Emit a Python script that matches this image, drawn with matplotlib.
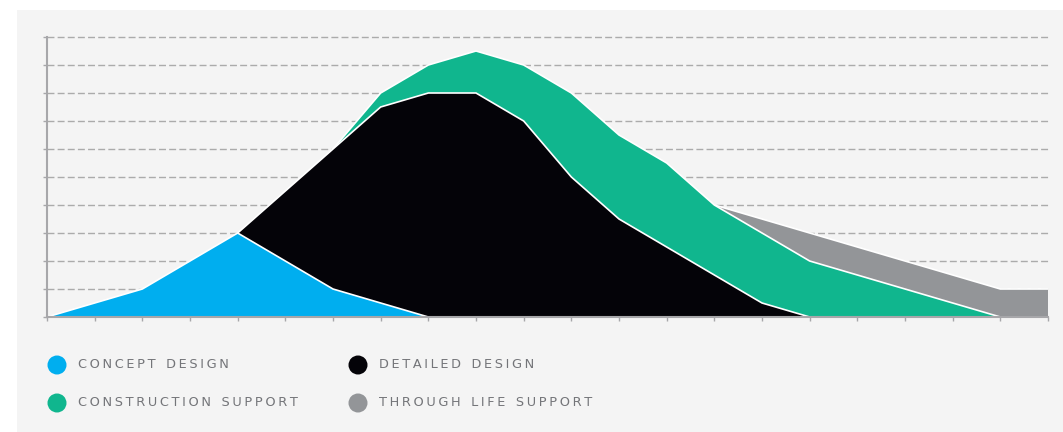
import numpy as np
import matplotlib
matplotlib.use("Agg")
import matplotlib.pyplot as plt
from matplotlib.patches import Rectangle, Ellipse

# ---- data (value per tick index 0..21; None = not present) ----
ticks = list(range(22))
concept_design = [0, 0.5, 1, 2, 3, 2, 1, 0.5, 0] + [None] * 13
detailed_design = [None] * 4 + [3, 4.5, 6, 7.5, 8, 8, 7, 5, 3.5, 2.5, 1.5, 0.5, 0] + [None] * 5
construction_support = [None] * 6 + [6, 8, 9, 9.5, 9, 8, 6.5, 5.5, 4, 3, 2, 1.5, 1, 0.5, 0] + [None]
through_life_support = [None] * 14 + [4, 3.5, 3, 2.5, 2, 1.5, 1, 1]
series_labels = ["CONCEPT DESIGN", "DETAILED DESIGN", "CONSTRUCTION SUPPORT", "THROUGH LIFE SUPPORT"]
series_colors = ["#00aeef", "#040308", "#10b68e", "#939598"]
y_ticks = list(range(11))

W, H = 1063, 432
fig = plt.figure(figsize=(W / 100, H / 100), dpi=100)
fig.patch.set_facecolor("white")
fig.add_artist(Rectangle((17 / W, 0), 1 - 17 / W, (H - 10) / H, transform=fig.transFigure,
                         facecolor="#f4f4f4", edgecolor="none", zorder=0))

ax = fig.add_axes([47 / W, 1 - 317 / H, (1048 - 47) / W, (317 - 37) / H])
ax.set_facecolor("none")
ax.set_xlim(0, 21)
ax.set_ylim(0, 10)

for yv in y_ticks[1:]:
    ax.axhline(yv, color="#ababab", lw=1.0, linestyle=(0, (5, 2.3)), zorder=0.5, clip_on=False)


def draw(vals, color, z):
    xs = [t for t, v in zip(ticks, vals) if v is not None]
    ys = [v for v in vals if v is not None]
    ax.fill_between(xs, 0, ys, facecolor=color, edgecolor="none", zorder=z)
    ax.plot(xs, ys, color="white", lw=1.2, zorder=z + 0.1, solid_joinstyle="miter")


draw(through_life_support, series_colors[3], 1)
draw(construction_support, series_colors[2], 2)
draw(detailed_design, series_colors[1], 3)
draw(concept_design, series_colors[0], 4)

for s in ["top", "right"]:
    ax.spines[s].set_visible(False)
for s in ["left", "bottom"]:
    ax.spines[s].set_color("#a7a7aa")
    ax.spines[s].set_linewidth(1.5)
    ax.spines[s].set_zorder(6)
ax.set_xticks(ticks)
ax.set_yticks(y_ticks)
ax.set_xticklabels([])
ax.set_yticklabels([])
ax.tick_params(axis="both", length=3, width=1, color="#a7a7aa")

# legend
for (cx, cy), i in zip([(57, 365), (57, 403), (358, 365), (358, 403)], [0, 2, 1, 3]):
    fig.add_artist(Ellipse((cx / W, 1 - cy / H), 19 / W, 19 / H, transform=fig.transFigure,
                           facecolor=series_colors[i], edgecolor="none", zorder=5))
    spaced = "\u2009".join(series_labels[i]).replace("\u2009 \u2009", "\u2009\u2009\u2009\u2009")
    fig.text((cx + 21) / W, 1 - cy / H, spaced, fontsize=9.3, color="#747579",
             ha="left", va="center", family="DejaVu Sans")

fig.savefig("out.png", dpi=100, facecolor=fig.get_facecolor())
